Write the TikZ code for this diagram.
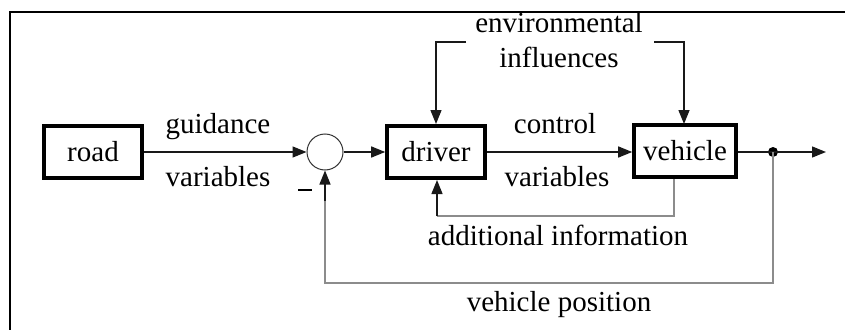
\documentclass[tikz,border=0pt]{standalone}
\usepackage{fontspec}
\setmainfont{Liberation Serif}
\usetikzlibrary{arrows.meta}
\begin{document}
\begin{tikzpicture}[x=1pt,y=-1pt,
  blk/.style={draw=black,line width=3.6pt,minimum height=52pt,inner sep=0pt,font=\fontsize{29}{32}\selectfont},
  sumc/.style={circle,draw=black!80,line width=1pt,minimum size=36pt,inner sep=0pt},
  lbl/.style={anchor=base,inner sep=0pt,font=\fontsize{29}{32}\selectfont},
  conn/.style={line width=1.4pt,draw=black!90},
  fb/.style={line width=1.4pt,draw=black!45},
  arr/.style={-{Triangle[length=14pt,width=11pt]}},
]
\useasboundingbox (0,0) rectangle (845,329);
\fill[white] (0,0) rectangle (845,329);
\draw[line width=1.6pt] (10,330) -- (10,12) -- (846,12);

\node[blk,minimum width=98pt] (road) at (93,152) {road};
\node[sumc] (sum) at (325,152) {};
\node[blk,minimum width=98pt] (driver) at (436,152) {driver};
\node[blk,minimum width=102pt] (vehicle) at (685,151) {vehicle};
\fill (773,152) circle (5pt);
\coordinate (dot) at (773,152);
\coordinate (out) at (826,152);

\draw[conn,arr] (road.east) -- (sum.west);
\draw[conn,arr] (sum.east) -- (driver.west);
\draw[conn,arr] (driver.east) -- (vehicle.west |- driver.east);
\draw[conn] (vehicle.east |- dot) -- (dot);
\draw[conn,arr] (dot) -- (out);

% environmental influences
\node[lbl] (env1) at (559,33) {environmental};
\node[lbl] (env2) at (559,67) {influences};
\coordinate (el) at (466,42);
\coordinate (er) at (654,42);
\draw[conn,arr] (el) -- (436,42) -- (436,124);
\draw[conn,arr] (er) -- (684,42) -- (684,124);

% additional information
\draw[fb] (674,179) -- (674,216) -- (437,216);
\draw[conn,arr] (437,216) -- (437,180);
\node[lbl] (addinfo) at (558,245) {additional information};

% vehicle position
\draw[fb] (dot) -- (773,283) -- (325,283) -- (325,200);
\draw[conn,arr] (325,201) -- (sum.south);
\node[lbl] (vpos) at (559,311) {vehicle position};

\node[lbl] (guid) at (218,133) {guidance};
\node[lbl] (gvar) at (218,186) {variables};
\node[lbl] (ctrl) at (555,133) {control};
\node[lbl] (cvar) at (557,186) {variables};
\draw[line width=1.4pt] (298,190) -- (312,190);
\end{tikzpicture}
\end{document}
